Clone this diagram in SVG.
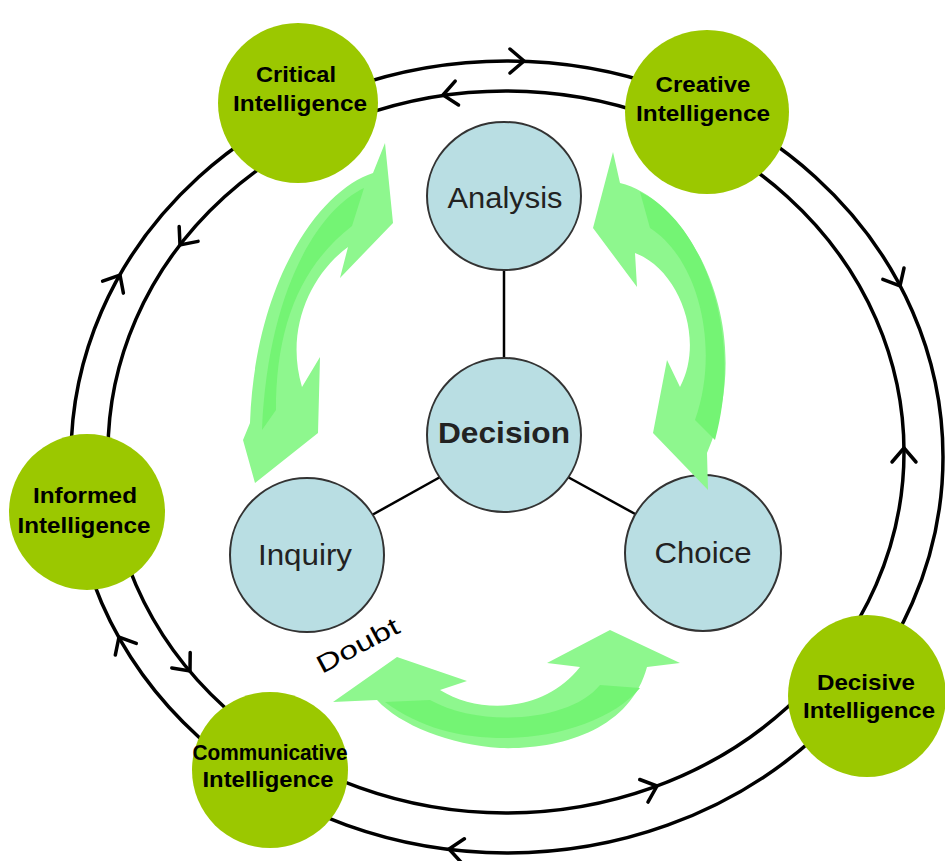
<svg xmlns="http://www.w3.org/2000/svg" xmlns:xlink="http://www.w3.org/1999/xlink" width="945" height="861" viewBox="0 0 945 861">
<style>
.ring{fill:none;stroke:#000;stroke-width:3.5}
.chev{fill:none;stroke:#000;stroke-width:3.5;stroke-linecap:round;stroke-linejoin:miter}
.link{stroke:#000;stroke-width:2.5}
.green{fill:#9BC800}
.blue{fill:#B9DEE3;stroke:#333;stroke-width:2}
.gt{font-family:"Liberation Sans",Arial,sans-serif;font-weight:bold;font-size:22px;fill:#000;text-anchor:middle}
.bt{font-family:"Liberation Sans",Arial,sans-serif;font-size:29px;fill:#222;text-anchor:middle}
.arrow{fill:#8EF78E}
.band{fill:#74F474}
</style>
<defs>
<path id="chev" class="chev" d="M-14,-12 L0,0 L-14,12"/>
</defs>
<rect width="945" height="861" fill="#fff"/>
<g id="connectors">
<ellipse class="ring" cx="507" cy="457" rx="436" ry="396"/>
<ellipse class="ring" cx="506" cy="452" rx="398" ry="361"/>
<use xlink:href="#chev" transform="translate(524,61) rotate(0)"/>
<use xlink:href="#chev" transform="translate(900,286) rotate(62)"/>
<use xlink:href="#chev" transform="translate(449,849) rotate(187)"/>
<use xlink:href="#chev" transform="translate(120,275) rotate(-60)"/>
<use xlink:href="#chev" transform="translate(119,637) rotate(-119)"/>
<use xlink:href="#chev" transform="translate(443,95) rotate(172)"/>
<use xlink:href="#chev" transform="translate(180,245) rotate(128)"/>
<use xlink:href="#chev" transform="translate(190,671) rotate(50)"/>
<use xlink:href="#chev" transform="translate(657,786) rotate(-20)"/>
<use xlink:href="#chev" transform="translate(904,448) rotate(-90)"/>
<line class="link" x1="504" y1="270" x2="504" y2="357"/>
<line class="link" x1="442" y1="476" x2="372" y2="515"/>
<line class="link" x1="566" y1="476" x2="637" y2="515"/>
</g>
<g id="critical"><circle class="green" cx="298" cy="103" r="80"/><text class="gt" x="296" y="82" textLength="80" lengthAdjust="spacingAndGlyphs">Critical</text><text class="gt" x="300" y="111" textLength="134" lengthAdjust="spacingAndGlyphs">Intelligence</text></g>
<g id="creative"><circle class="green" cx="707" cy="112" r="82"/><text class="gt" x="703" y="92" textLength="95" lengthAdjust="spacingAndGlyphs">Creative</text><text class="gt" x="703" y="121" textLength="134" lengthAdjust="spacingAndGlyphs">Intelligence</text></g>
<g id="informed"><circle class="green" cx="87" cy="512" r="78"/><text class="gt" x="85" y="503" textLength="104" lengthAdjust="spacingAndGlyphs">Informed</text><text class="gt" x="84" y="533" textLength="133" lengthAdjust="spacingAndGlyphs">Intelligence</text></g>
<g id="decisive"><ellipse class="green" cx="867" cy="696" rx="79" ry="81"/><text class="gt" x="866" y="690" textLength="98" lengthAdjust="spacingAndGlyphs">Decisive</text><text class="gt" x="869" y="718" textLength="132" lengthAdjust="spacingAndGlyphs">Intelligence</text></g>
<g id="communicative"><circle class="green" cx="270" cy="770" r="78"/><text class="gt" x="270" y="760" textLength="155" lengthAdjust="spacingAndGlyphs">Communicative</text><text class="gt" x="268" y="787" textLength="131" lengthAdjust="spacingAndGlyphs">Intelligence</text></g>
<g id="analysis"><ellipse class="blue" cx="504" cy="196" rx="77" ry="74"/><text class="bt" x="505" y="208" textLength="115" lengthAdjust="spacingAndGlyphs">Analysis</text></g>
<g id="decision"><circle class="blue" cx="504" cy="435" r="77"/><text class="bt" x="504" y="443" font-weight="bold" fill="#000" textLength="132" lengthAdjust="spacingAndGlyphs">Decision</text></g>
<g id="inquiry"><circle class="blue" cx="307" cy="555" r="77"/><text class="bt" x="305" y="565" textLength="94" lengthAdjust="spacingAndGlyphs">Inquiry</text></g>
<g id="choice"><circle class="blue" cx="703" cy="553" r="78"/><text class="bt" x="703" y="563" textLength="97" lengthAdjust="spacingAndGlyphs">Choice</text></g>
<g id="cycle-arrows">
<path class="arrow" d="M385,143 L393,223 L340,278 L348,247 C310,275 285,330 302,387 L320,357 L318,433 L255,483 L243,440 L250,423 C255,280 320,190 373,173 Z"/>
<path class="band" d="M364,188 C318,210 268,290 262,430 L276,410 C276,330 298,268 352,226 Z"/>
<path class="arrow" d="M613,152 L620,183 C690,200 760,330 707,453 L708,490 L653,433 L667,360 L680,387 C705,340 680,270 635,253 L637,287 L593,228 Z"/>
<path class="band" d="M640,192 C700,220 745,330 715,440 L695,420 C720,350 700,260 650,228 Z"/>
<path class="arrow" d="M333,702 L397,657 L467,681 L440,690 C480,715 545,712 580,667 L547,663 L610,630 L680,663 L647,667 C630,730 560,750 500,748 C450,745 400,725 377,700 Z"/>
<path class="band" d="M385,702 C420,728 460,738 505,738 C560,738 615,718 640,688 L600,685 C570,722 480,728 430,700 Z"/>
</g>
<text x="322" y="674" transform="rotate(-28 322 674)" font-family="'Liberation Sans',Arial,sans-serif" font-size="25" fill="#000" textLength="90" lengthAdjust="spacingAndGlyphs">Doubt</text>
</svg>
